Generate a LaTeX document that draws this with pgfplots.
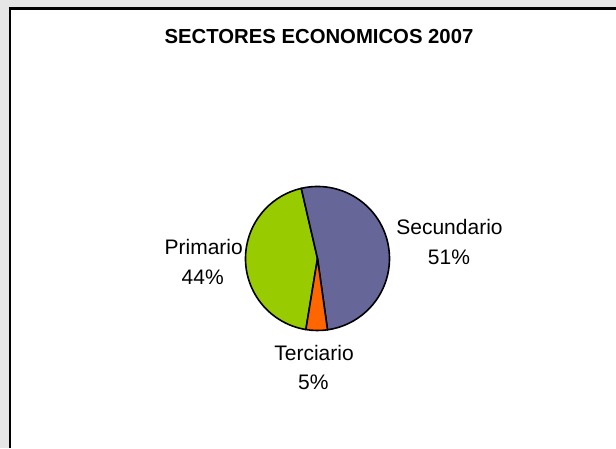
\documentclass[border=0pt]{standalone}
\usepackage{pgfplots}
\pgfplotsset{compat=1.18}
\usepackage{pgfplotstable}
\usepackage{fontspec}
\setmainfont{Liberation Sans}
\definecolor{secund}{HTML}{666699}
\definecolor{prim}{HTML}{99CC00}
\definecolor{terc}{HTML}{FF6600}
\definecolor{outer}{HTML}{E6E6E6}
\pgfplotstableread{
sector value
Primario 43.8
Secundario 51.4
Terciario 4.8
}\sectordata
\begin{document}
\begin{tikzpicture}
\pgfplotstablegetelem{0}{value}\of\sectordata \let\vP\pgfplotsretval
\pgfplotstablegetelem{1}{value}\of\sectordata \let\vS\pgfplotsretval
\pgfplotstablegetelem{2}{value}\of\sectordata \let\vT\pgfplotsretval
\pgfmathsetmacro{\aP}{-99.3}
\pgfmathsetmacro{\bP}{\aP-3.6*\vP}
\pgfmathsetmacro{\bS}{\bP-3.6*\vS}
\pgfmathsetmacro{\bT}{\bS-3.6*\vT}
\begin{axis}[width=616pt,height=448pt,scale only axis,
  xmin=0,xmax=616,ymin=0,ymax=448,hide axis,clip=false]
\fill[outer] (axis cs:0,0) rectangle (axis cs:616,448);
\fill[white] (axis cs:10,0) rectangle (axis cs:616,439.5);
\draw[line width=2.2pt] (axis cs:10,0) -- (axis cs:10,440.6);
\draw[line width=2.2pt] (axis cs:8.9,439.5) -- (axis cs:616,439.5);
% slices
\filldraw[fill=prim, draw=black, line width=1.6pt, line join=round]
  (axis cs:317.5,189.5) -- ++(\aP:72pt) arc[start angle=\aP, end angle=\bP, radius=72pt] -- cycle;
\filldraw[fill=secund, draw=black, line width=1.6pt, line join=round]
  (axis cs:317.5,189.5) -- ++(\bP:72pt) arc[start angle=\bP, end angle=\bS, radius=72pt] -- cycle;
\filldraw[fill=terc, draw=black, line width=1.6pt, line join=round]
  (axis cs:317.5,189.5) -- ++(\bS:72pt) arc[start angle=\bS, end angle=\bT, radius=72pt] -- cycle;
% title
\node[anchor=base, font=\fontsize{20.3}{24}\selectfont\bfseries, inner sep=0pt]
  at (axis cs:319,404) {SECTORES ECONOMICOS 2007};
% labels
\node[anchor=base, font=\fontsize{21}{24}\selectfont, inner sep=0pt] at (axis cs:449.5,214) {Secundario};
\node[anchor=base, font=\fontsize{21}{24}\selectfont, inner sep=0pt] at (axis cs:449,184) {51\%};
\node[anchor=base, font=\fontsize{21}{24}\selectfont, inner sep=0pt] at (axis cs:203.7,194) {Primario};
\node[anchor=base, font=\fontsize{21}{24}\selectfont, inner sep=0pt] at (axis cs:202.7,164) {44\%};
\node[anchor=base, font=\fontsize{21}{24}\selectfont, inner sep=0pt] at (axis cs:314,88) {Terciario};
\node[anchor=base, font=\fontsize{21}{24}\selectfont, inner sep=0pt] at (axis cs:313.3,59) {5\%};
\end{axis}
\pgfresetboundingbox
\path (current axis.south west) rectangle (current axis.north east);
\end{tikzpicture}
\end{document}
